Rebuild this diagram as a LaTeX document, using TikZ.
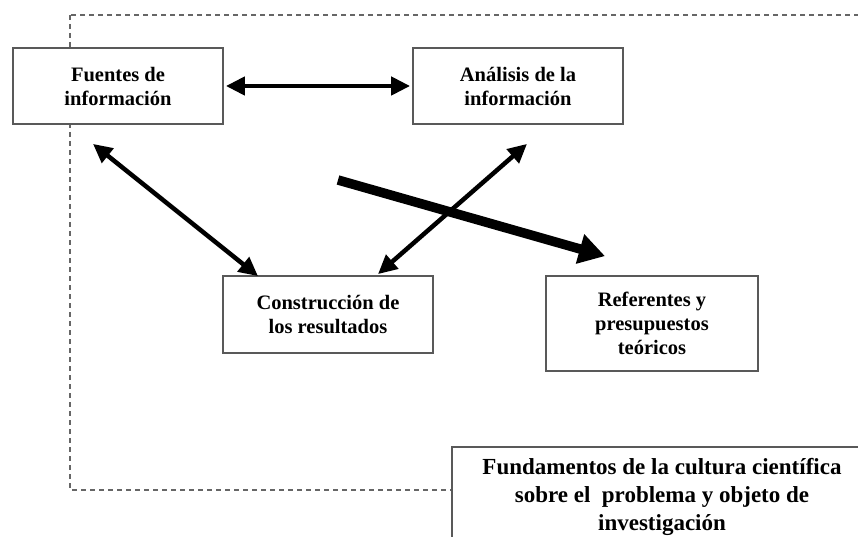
\documentclass[tikz,border=0pt]{standalone}
\usepackage{fontspec}
\setmainfont{Liberation Serif}
\usetikzlibrary{arrows.meta,calc}

\tikzset{
    caja/.style = {%
        draw = black!65,
        fill = white,
        line width = 1.8pt,
        align = center,
        inner sep = 0pt,
        font = \bfseries\fontsize{20.5}{24}\selectfont
    },
    flechadoble/.style = {%
        {Triangle[length=19pt,width=18pt]}-{Triangle[length=19pt,width=18pt]},
        line width = 4.5pt
    },
    flechagruesa/.style = {%
        -{Triangle[length=26pt,width=29pt]},
        line width = 9.5pt
    }
}

\begin{document}
\begin{tikzpicture}[x = 1pt, y = -1pt]

        \useasboundingbox (0, 0) rectangle (858, 537);
        \clip (0, 0) rectangle (858, 537);

        % Dashed frame of the scientific culture.
        \draw[black!60, line width = 1.5pt, dash pattern = on 5pt off 4pt]
            (70, 15) rectangle (885, 490);

        % Boxes.
        \node[caja, minimum width = 210pt, minimum height = 76pt]
            (fuentes) at (118, 86) {Fuentes de\\información};
        \node[caja, minimum width = 210pt, minimum height = 76pt]
            (analisis) at (518, 86) {Análisis de la\\información};
        \node[caja, minimum width = 210pt, minimum height = 77pt]
            (construccion) at (328, 314.5) {Construcción de\\los resultados};
        \node[caja, minimum width = 212pt, minimum height = 95pt]
            (referentes) at (652, 323.5) {Referentes y\\presupuestos\\teóricos};
        \node[caja, minimum width = 420pt, minimum height = 100pt,
              font = \bfseries\fontsize{23}{28}\selectfont]
            (fundamentos) at (662, 497)
            {Fundamentos de la cultura científica\\sobre el~ problema y objeto de\\investigación};

        % Double arrows between the boxes.
        \draw[flechadoble] ([xshift = 2pt]fuentes.east) -- ([xshift = -2pt]analisis.west);
        \draw[flechadoble] ($(fuentes.south) + (-25, 19)$) -- ($(construccion.north) + (-70, 1)$);
        \draw[flechadoble] ($(construccion.north) + (50, -1)$) -- ($(analisis.south) + (9, 19)$);

        % Thick arrow towards the theoretical references.
        \coordinate (inicio) at (338, 180);
        \draw[flechagruesa] (inicio) -- ($(referentes.north) + (-47, -19)$);
    \end{tikzpicture}
\end{document}
